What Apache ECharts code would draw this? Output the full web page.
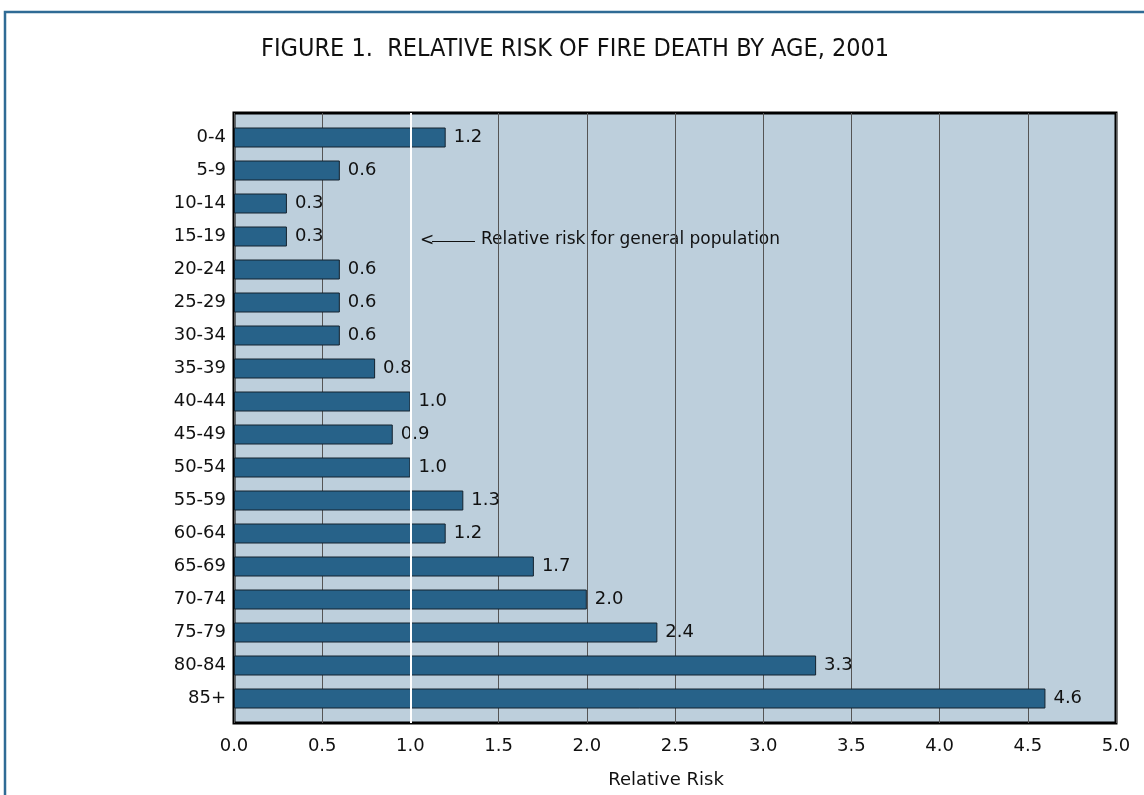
<!DOCTYPE html>
<html>
<head>
<meta charset="utf-8">
<script src="https://cdn.jsdelivr.net/npm/echarts@6/dist/echarts.min.js"></script>
<style>
  html, body { margin: 0; padding: 0; background: #fff; }
  #chart { width: 1144px; height: 795px; }
</style>
</head>
<body>
<div id="chart"></div>
<script>
// Age groups, top to bottom
const ageGroups = ['0-4', '5-9', '10-14', '15-19', '20-24', '25-29', '30-34', '35-39', '40-44',
  '45-49', '50-54', '55-59', '60-64', '65-69', '70-74', '75-79', '80-84', '85+'];
// Relative risk of fire death per age group (general population = 1.0)
const relativeRisk = [1.2, 0.6, 0.3, 0.3, 0.6, 0.6, 0.6, 0.8, 1.0, 0.9, 1.0, 1.3, 1.2, 1.7, 2.0, 2.4, 3.3, 4.6];
// Reference level for the general population
const generalPopulation = 1.0;
// X axis range and step
const xMin = 0, xMax = 5, xStep = 0.5;

const FONT = '"DejaVu Sans", Verdana, sans-serif';
const chart = echarts.init(document.getElementById('chart'), null, { renderer: 'canvas' });

chart.setOption({
  animation: false,
  backgroundColor: '#ffffff',
  title: {
    text: 'FIGURE 1.  RELATIVE RISK OF FIRE DEATH BY AGE, 2001',
    left: 256,
    top: 32,
    textStyle: { fontFamily: '"Liberation Sans Narrow", "DejaVu Sans Condensed", Arial, sans-serif', fontSize: 25, fontWeight: 'normal', color: '#111' }
  },
  graphic: [
    {
      type: 'rect', z: -10, silent: true,
      shape: { x: 5, y: 12, width: 1170, height: 820 },
      style: { fill: 'none', stroke: '#2f6b95', lineWidth: 2.5 }
    },
    {
      type: 'group', z: 20, silent: true,
      children: [
        { type: 'text', x: 420, y: 232, style: { text: '<', font: '17px ' + FONT, fill: '#111' } },
        { type: 'line', shape: { x1: 432, y1: 241.5, x2: 475, y2: 241.5 }, style: { stroke: '#111', lineWidth: 1 } },
        { type: 'text', x: 481, y: 231, style: { text: 'Relative risk for general population', font: '17px ' + FONT, fill: '#111' } }
      ]
    }
  ],
  grid: [
    // frame, background and vertical grid lines
    { left: 234, right: 28, top: 113, bottom: 72, show: true, backgroundColor: '#bdcfdc', borderColor: '#000', borderWidth: 3, z: 0 },
    // bars
    { left: 234, right: 28, top: 121, bottom: 80 }
  ],
  xAxis: [
    {
      gridIndex: 0, type: 'value', min: xMin, max: xMax, interval: xStep,
      axisLine: { show: false }, axisTick: { show: false },
      splitLine: { show: true, lineStyle: { color: '#555', width: 1 } },
      axisLabel: { fontFamily: FONT, fontSize: 18, color: '#111', margin: 14, formatter: v => v.toFixed(1) },
      name: 'Relative Risk', nameLocation: 'middle', nameGap: 48,
      nameTextStyle: { fontFamily: FONT, fontSize: 18, color: '#111', padding: [0, 18, 0, 0] }
    },
    {
      gridIndex: 1, type: 'value', min: xMin, max: xMax, interval: xStep, show: false
    }
  ],
  yAxis: [
    { gridIndex: 0, type: 'value', min: 0, max: 1, show: false },
    {
      gridIndex: 1, type: 'category', data: ageGroups, inverse: true,
      axisLine: { show: false }, axisTick: { show: false }, splitLine: { show: false },
      axisLabel: { fontFamily: FONT, fontSize: 18, color: '#111', margin: 8 }
    }
  ],
  series: [
    {
      type: 'bar', xAxisIndex: 1, yAxisIndex: 1, data: relativeRisk, barWidth: 20, z: 2,
      itemStyle: { color: '#276289', borderColor: '#14222e', borderWidth: 1 },
      label: {
        show: true, position: 'right', distance: 8,
        fontFamily: FONT, fontSize: 18, color: '#111',
        formatter: p => p.value.toFixed(1)
      }
    },
    {
      type: 'line', xAxisIndex: 0, yAxisIndex: 0, data: [], z: 10, silent: true,
      markLine: {
        silent: true, symbol: 'none', label: { show: false },
        lineStyle: { color: '#ffffff', width: 2, type: 'solid' },
        data: [{ xAxis: generalPopulation }]
      }
    }
  ]
});
</script>
</body>
</html>
